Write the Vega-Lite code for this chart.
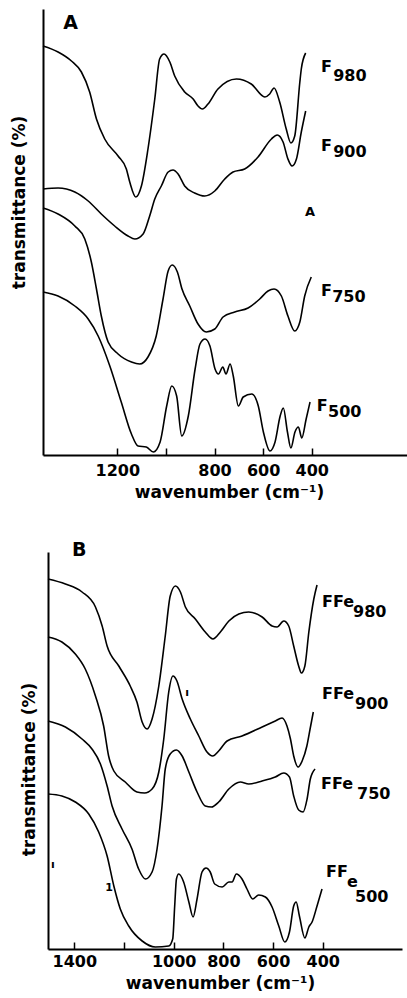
{
  "$schema": "https://vega.github.io/schema/vega-lite/v6.json",
  "background": "white",
  "autosize": {"type": "pad"},
  "padding": {"left": 10, "top": 9, "right": 0, "bottom": 0},
  "bounds": "flush",
  "center": true,
  "spacing": 97,
  "config": {
    "view": {"stroke": null},
    "font": "DejaVu Sans",
    "axis": {"grid": false, "domainColor": "black", "domainWidth": 2, "tickColor": "black", "tickWidth": 1.5, "labelColor": "black", "titleColor": "black", "labelFont": "DejaVu Sans", "titleFont": "DejaVu Sans", "labelFontWeight": "bold", "titleFontWeight": "bold", "labelFontSize": 16, "titleFontSize": 17},
    "text": {"color": "black", "font": "DejaVu Sans", "fontWeight": "bold"}
  },
  "datasets": {
    "specA": [
      {"series": "F980", "wn": 1506, "t": 409}, {"series": "F980", "wn": 1444, "t": 403}, {"series": "F980", "wn": 1389, "t": 394}, {"series": "F980", "wn": 1348, "t": 383}, {"series": "F980", "wn": 1314, "t": 363}, {"series": "F980", "wn": 1286, "t": 336}, {"series": "F980", "wn": 1252, "t": 316}, {"series": "F980", "wn": 1197, "t": 299}, {"series": "F980", "wn": 1163, "t": 286}, {"series": "F980", "wn": 1149, "t": 273}, {"series": "F980", "wn": 1124, "t": 258}, {"series": "F980", "wn": 1101, "t": 269}, {"series": "F980", "wn": 1074, "t": 306}, {"series": "F980", "wn": 1046, "t": 356}, {"series": "F980", "wn": 1026, "t": 396}, {"series": "F980", "wn": 1008, "t": 401}, {"series": "F980", "wn": 984, "t": 393}, {"series": "F980", "wn": 964, "t": 379}, {"series": "F980", "wn": 923, "t": 363}, {"series": "F980", "wn": 888, "t": 356}, {"series": "F980", "wn": 868, "t": 349}, {"series": "F980", "wn": 850, "t": 346}, {"series": "F980", "wn": 827, "t": 351}, {"series": "F980", "wn": 786, "t": 366}, {"series": "F980", "wn": 710, "t": 376}, {"series": "F980", "wn": 649, "t": 371}, {"series": "F980", "wn": 593, "t": 358}, {"series": "F980", "wn": 573, "t": 361}, {"series": "F980", "wn": 555, "t": 367}, {"series": "F980", "wn": 532, "t": 353}, {"series": "F980", "wn": 505, "t": 326}, {"series": "F980", "wn": 486, "t": 312}, {"series": "F980", "wn": 470, "t": 319}, {"series": "F980", "wn": 449, "t": 373}, {"series": "F980", "wn": 443, "t": 386}, {"series": "F980", "wn": 425, "t": 402},
      {"series": "F900", "wn": 1506, "t": 266}, {"series": "F900", "wn": 1444, "t": 267}, {"series": "F900", "wn": 1375, "t": 263}, {"series": "F900", "wn": 1320, "t": 254}, {"series": "F900", "wn": 1266, "t": 241}, {"series": "F900", "wn": 1211, "t": 229}, {"series": "F900", "wn": 1156, "t": 219}, {"series": "F900", "wn": 1128, "t": 216}, {"series": "F900", "wn": 1094, "t": 221}, {"series": "F900", "wn": 1067, "t": 239}, {"series": "F900", "wn": 1046, "t": 256}, {"series": "F900", "wn": 1019, "t": 269}, {"series": "F900", "wn": 991, "t": 283}, {"series": "F900", "wn": 971, "t": 285}, {"series": "F900", "wn": 950, "t": 281}, {"series": "F900", "wn": 923, "t": 269}, {"series": "F900", "wn": 882, "t": 262}, {"series": "F900", "wn": 840, "t": 259}, {"series": "F900", "wn": 799, "t": 264}, {"series": "F900", "wn": 758, "t": 276}, {"series": "F900", "wn": 724, "t": 283}, {"series": "F900", "wn": 676, "t": 286}, {"series": "F900", "wn": 621, "t": 298}, {"series": "F900", "wn": 566, "t": 316}, {"series": "F900", "wn": 542, "t": 320}, {"series": "F900", "wn": 518, "t": 313}, {"series": "F900", "wn": 498, "t": 296}, {"series": "F900", "wn": 481, "t": 289}, {"series": "F900", "wn": 463, "t": 296}, {"series": "F900", "wn": 443, "t": 323}, {"series": "F900", "wn": 425, "t": 344},
      {"series": "F750", "wn": 1506, "t": 247}, {"series": "F750", "wn": 1444, "t": 241}, {"series": "F750", "wn": 1375, "t": 229}, {"series": "F750", "wn": 1334, "t": 216}, {"series": "F750", "wn": 1307, "t": 193}, {"series": "F750", "wn": 1286, "t": 166}, {"series": "F750", "wn": 1266, "t": 139}, {"series": "F750", "wn": 1238, "t": 113}, {"series": "F750", "wn": 1197, "t": 101}, {"series": "F750", "wn": 1142, "t": 93}, {"series": "F750", "wn": 1108, "t": 91}, {"series": "F750", "wn": 1074, "t": 98}, {"series": "F750", "wn": 1040, "t": 119}, {"series": "F750", "wn": 1012, "t": 156}, {"series": "F750", "wn": 991, "t": 184}, {"series": "F750", "wn": 974, "t": 190}, {"series": "F750", "wn": 953, "t": 183}, {"series": "F750", "wn": 934, "t": 166}, {"series": "F750", "wn": 902, "t": 149}, {"series": "F750", "wn": 868, "t": 131}, {"series": "F750", "wn": 834, "t": 123}, {"series": "F750", "wn": 799, "t": 126}, {"series": "F750", "wn": 765, "t": 138}, {"series": "F750", "wn": 717, "t": 143}, {"series": "F750", "wn": 662, "t": 147}, {"series": "F750", "wn": 614, "t": 156}, {"series": "F750", "wn": 580, "t": 164}, {"series": "F750", "wn": 555, "t": 166}, {"series": "F750", "wn": 525, "t": 159}, {"series": "F750", "wn": 498, "t": 139}, {"series": "F750", "wn": 470, "t": 124}, {"series": "F750", "wn": 449, "t": 133}, {"series": "F750", "wn": 429, "t": 159}, {"series": "F750", "wn": 402, "t": 178},
      {"series": "F500", "wn": 1506, "t": 163}, {"series": "F500", "wn": 1444, "t": 159}, {"series": "F500", "wn": 1375, "t": 149}, {"series": "F500", "wn": 1320, "t": 136}, {"series": "F500", "wn": 1279, "t": 119}, {"series": "F500", "wn": 1231, "t": 89}, {"series": "F500", "wn": 1184, "t": 53}, {"series": "F500", "wn": 1142, "t": 21}, {"series": "F500", "wn": 1115, "t": 9}, {"series": "F500", "wn": 1081, "t": 8}, {"series": "F500", "wn": 1052, "t": 3}, {"series": "F500", "wn": 1024, "t": 13}, {"series": "F500", "wn": 997, "t": 49}, {"series": "F500", "wn": 976, "t": 69}, {"series": "F500", "wn": 956, "t": 59}, {"series": "F500", "wn": 935, "t": 19}, {"series": "F500", "wn": 908, "t": 39}, {"series": "F500", "wn": 880, "t": 86}, {"series": "F500", "wn": 860, "t": 111}, {"series": "F500", "wn": 839, "t": 116}, {"series": "F500", "wn": 819, "t": 109}, {"series": "F500", "wn": 798, "t": 86}, {"series": "F500", "wn": 784, "t": 81}, {"series": "F500", "wn": 766, "t": 88}, {"series": "F500", "wn": 753, "t": 81}, {"series": "F500", "wn": 736, "t": 91}, {"series": "F500", "wn": 723, "t": 79}, {"series": "F500", "wn": 702, "t": 49}, {"series": "F500", "wn": 682, "t": 58}, {"series": "F500", "wn": 647, "t": 61}, {"series": "F500", "wn": 620, "t": 49}, {"series": "F500", "wn": 599, "t": 23}, {"series": "F500", "wn": 572, "t": 4}, {"series": "F500", "wn": 551, "t": 13}, {"series": "F500", "wn": 530, "t": 39}, {"series": "F500", "wn": 517, "t": 47}, {"series": "F500", "wn": 500, "t": 23}, {"series": "F500", "wn": 486, "t": 7}, {"series": "F500", "wn": 469, "t": 23}, {"series": "F500", "wn": 455, "t": 28}, {"series": "F500", "wn": 441, "t": 17}, {"series": "F500", "wn": 423, "t": 36}, {"series": "F500", "wn": 407, "t": 53}
    ],
    "specB": [
      {"series": "FFe980", "wn": 1506, "t": 370}, {"series": "FFe980", "wn": 1436, "t": 365}, {"series": "FFe980", "wn": 1369, "t": 357}, {"series": "FFe980", "wn": 1315, "t": 342}, {"series": "FFe980", "wn": 1288, "t": 323}, {"series": "FFe980", "wn": 1268, "t": 303}, {"series": "FFe980", "wn": 1221, "t": 283}, {"series": "FFe980", "wn": 1175, "t": 263}, {"series": "FFe980", "wn": 1148, "t": 247}, {"series": "FFe980", "wn": 1127, "t": 227}, {"series": "FFe980", "wn": 1107, "t": 220}, {"series": "FFe980", "wn": 1087, "t": 230}, {"series": "FFe980", "wn": 1060, "t": 263}, {"series": "FFe980", "wn": 1034, "t": 313}, {"series": "FFe980", "wn": 1014, "t": 353}, {"series": "FFe980", "wn": 993, "t": 363}, {"series": "FFe980", "wn": 973, "t": 357}, {"series": "FFe980", "wn": 953, "t": 342}, {"series": "FFe980", "wn": 913, "t": 330}, {"series": "FFe980", "wn": 873, "t": 317}, {"series": "FFe980", "wn": 842, "t": 310}, {"series": "FFe980", "wn": 812, "t": 317}, {"series": "FFe980", "wn": 778, "t": 328}, {"series": "FFe980", "wn": 738, "t": 335}, {"series": "FFe980", "wn": 698, "t": 337}, {"series": "FFe980", "wn": 644, "t": 332}, {"series": "FFe980", "wn": 604, "t": 323}, {"series": "FFe980", "wn": 584, "t": 322}, {"series": "FFe980", "wn": 557, "t": 328}, {"series": "FFe980", "wn": 537, "t": 323}, {"series": "FFe980", "wn": 517, "t": 303}, {"series": "FFe980", "wn": 497, "t": 283}, {"series": "FFe980", "wn": 486, "t": 276}, {"series": "FFe980", "wn": 472, "t": 283}, {"series": "FFe980", "wn": 456, "t": 317}, {"series": "FFe980", "wn": 436, "t": 350}, {"series": "FFe980", "wn": 423, "t": 364},
      {"series": "FFe900", "wn": 1506, "t": 312}, {"series": "FFe900", "wn": 1450, "t": 307}, {"series": "FFe900", "wn": 1396, "t": 295}, {"series": "FFe900", "wn": 1356, "t": 280}, {"series": "FFe900", "wn": 1315, "t": 253}, {"series": "FFe900", "wn": 1282, "t": 223}, {"series": "FFe900", "wn": 1262, "t": 193}, {"series": "FFe900", "wn": 1241, "t": 178}, {"series": "FFe900", "wn": 1195, "t": 167}, {"series": "FFe900", "wn": 1148, "t": 157}, {"series": "FFe900", "wn": 1117, "t": 156}, {"series": "FFe900", "wn": 1087, "t": 160}, {"series": "FFe900", "wn": 1060, "t": 177}, {"series": "FFe900", "wn": 1040, "t": 210}, {"series": "FFe900", "wn": 1020, "t": 257}, {"series": "FFe900", "wn": 1003, "t": 273}, {"series": "FFe900", "wn": 987, "t": 268}, {"series": "FFe900", "wn": 966, "t": 250}, {"series": "FFe900", "wn": 933, "t": 230}, {"series": "FFe900", "wn": 899, "t": 213}, {"series": "FFe900", "wn": 866, "t": 197}, {"series": "FFe900", "wn": 843, "t": 193}, {"series": "FFe900", "wn": 819, "t": 198}, {"series": "FFe900", "wn": 785, "t": 208}, {"series": "FFe900", "wn": 725, "t": 213}, {"series": "FFe900", "wn": 644, "t": 222}, {"series": "FFe900", "wn": 591, "t": 228}, {"series": "FFe900", "wn": 564, "t": 231}, {"series": "FFe900", "wn": 544, "t": 223}, {"series": "FFe900", "wn": 530, "t": 210}, {"series": "FFe900", "wn": 517, "t": 193}, {"series": "FFe900", "wn": 499, "t": 182}, {"series": "FFe900", "wn": 483, "t": 188}, {"series": "FFe900", "wn": 464, "t": 203}, {"series": "FFe900", "wn": 451, "t": 220}, {"series": "FFe900", "wn": 438, "t": 237},
      {"series": "FFe750", "wn": 1506, "t": 228}, {"series": "FFe750", "wn": 1436, "t": 222}, {"series": "FFe750", "wn": 1369, "t": 210}, {"series": "FFe750", "wn": 1329, "t": 200}, {"series": "FFe750", "wn": 1295, "t": 185}, {"series": "FFe750", "wn": 1268, "t": 163}, {"series": "FFe750", "wn": 1248, "t": 143}, {"series": "FFe750", "wn": 1208, "t": 120}, {"series": "FFe750", "wn": 1168, "t": 100}, {"series": "FFe750", "wn": 1141, "t": 80}, {"series": "FFe750", "wn": 1114, "t": 70}, {"series": "FFe750", "wn": 1087, "t": 77}, {"series": "FFe750", "wn": 1067, "t": 100}, {"series": "FFe750", "wn": 1047, "t": 143}, {"series": "FFe750", "wn": 1034, "t": 180}, {"series": "FFe750", "wn": 1014, "t": 195}, {"series": "FFe750", "wn": 989, "t": 199}, {"series": "FFe750", "wn": 966, "t": 193}, {"series": "FFe750", "wn": 939, "t": 177}, {"series": "FFe750", "wn": 906, "t": 157}, {"series": "FFe750", "wn": 873, "t": 143}, {"series": "FFe750", "wn": 848, "t": 142}, {"series": "FFe750", "wn": 819, "t": 147}, {"series": "FFe750", "wn": 778, "t": 160}, {"series": "FFe750", "wn": 732, "t": 167}, {"series": "FFe750", "wn": 698, "t": 165}, {"series": "FFe750", "wn": 644, "t": 168}, {"series": "FFe750", "wn": 591, "t": 172}, {"series": "FFe750", "wn": 557, "t": 176}, {"series": "FFe750", "wn": 534, "t": 172}, {"series": "FFe750", "wn": 517, "t": 153}, {"series": "FFe750", "wn": 497, "t": 139}, {"series": "FFe750", "wn": 479, "t": 137}, {"series": "FFe750", "wn": 463, "t": 150}, {"series": "FFe750", "wn": 450, "t": 170}, {"series": "FFe750", "wn": 431, "t": 180},
      {"series": "FFe500", "wn": 1506, "t": 155}, {"series": "FFe500", "wn": 1450, "t": 153}, {"series": "FFe500", "wn": 1396, "t": 147}, {"series": "FFe500", "wn": 1342, "t": 135}, {"series": "FFe500", "wn": 1302, "t": 117}, {"series": "FFe500", "wn": 1268, "t": 93}, {"series": "FFe500", "wn": 1241, "t": 63}, {"series": "FFe500", "wn": 1215, "t": 40}, {"series": "FFe500", "wn": 1181, "t": 23}, {"series": "FFe500", "wn": 1127, "t": 8}, {"series": "FFe500", "wn": 1074, "t": 2}, {"series": "FFe500", "wn": 1020, "t": 3}, {"series": "FFe500", "wn": 1004, "t": 10}, {"series": "FFe500", "wn": 996, "t": 43}, {"series": "FFe500", "wn": 989, "t": 70}, {"series": "FFe500", "wn": 980, "t": 75}, {"series": "FFe500", "wn": 960, "t": 67}, {"series": "FFe500", "wn": 939, "t": 47}, {"series": "FFe500", "wn": 922, "t": 32}, {"series": "FFe500", "wn": 906, "t": 50}, {"series": "FFe500", "wn": 886, "t": 77}, {"series": "FFe500", "wn": 870, "t": 81}, {"series": "FFe500", "wn": 853, "t": 77}, {"series": "FFe500", "wn": 835, "t": 65}, {"series": "FFe500", "wn": 805, "t": 62}, {"series": "FFe500", "wn": 778, "t": 67}, {"series": "FFe500", "wn": 765, "t": 67}, {"series": "FFe500", "wn": 748, "t": 75}, {"series": "FFe500", "wn": 725, "t": 70}, {"series": "FFe500", "wn": 705, "t": 60}, {"series": "FFe500", "wn": 682, "t": 50}, {"series": "FFe500", "wn": 658, "t": 54}, {"series": "FFe500", "wn": 631, "t": 52}, {"series": "FFe500", "wn": 604, "t": 42}, {"series": "FFe500", "wn": 577, "t": 23}, {"series": "FFe500", "wn": 553, "t": 7}, {"series": "FFe500", "wn": 534, "t": 17}, {"series": "FFe500", "wn": 517, "t": 43}, {"series": "FFe500", "wn": 507, "t": 47}, {"series": "FFe500", "wn": 494, "t": 33}, {"series": "FFe500", "wn": 472, "t": 11}, {"series": "FFe500", "wn": 456, "t": 22}, {"series": "FFe500", "wn": 443, "t": 27}, {"series": "FFe500", "wn": 423, "t": 43}, {"series": "FFe500", "wn": 403, "t": 60}
    ],
    "labA": [
      {"text": "A", "wn": 1423, "t": 426, "role": "panel"},
      {"text": "F", "wn": 362, "t": 383, "role": "main"},
      {"text": "980", "wn": 312, "t": 374, "role": "sub"},
      {"text": "F", "wn": 362, "t": 304, "role": "main"},
      {"text": "900", "wn": 312, "t": 298, "role": "sub"},
      {"text": "F", "wn": 362, "t": 159, "role": "main"},
      {"text": "750", "wn": 316, "t": 153, "role": "sub"},
      {"text": "F", "wn": 379, "t": 44, "role": "main"},
      {"text": "500", "wn": 333, "t": 38, "role": "sub"},
      {"text": "A", "wn": 428, "t": 239, "role": "mark"}
    ],
    "labB": [
      {"text": "B", "wn": 1409, "t": 393, "role": "panel"},
      {"text": "FFe", "wn": 403, "t": 342, "role": "main"},
      {"text": "980", "wn": 278, "t": 332, "role": "sub"},
      {"text": "FFe", "wn": 403, "t": 250, "role": "main"},
      {"text": "900", "wn": 270, "t": 240, "role": "sub"},
      {"text": "FFe", "wn": 407, "t": 160, "role": "main"},
      {"text": "750", "wn": 262, "t": 150, "role": "sub"},
      {"text": "FF", "wn": 387, "t": 72, "role": "main"},
      {"text": "e", "wn": 302, "t": 62, "role": "main"},
      {"text": "500", "wn": 270, "t": 47, "role": "sub"},
      {"text": "ı", "wn": 954, "t": 253, "role": "mark"},
      {"text": "ı", "wn": 1494, "t": 81, "role": "mark"},
      {"text": "1", "wn": 1276, "t": 58, "role": "mark"}
    ]
  },
  "vconcat": [
    {
      "width": 364,
      "height": 446,
      "encoding": {
        "x": {"field": "wn", "type": "quantitative", "scale": {"domain": [8, 1506], "reverse": true, "nice": false, "zero": false},
          "axis": {"title": "wavenumber (cm⁻¹)", "values": [1200, 1000, 800, 600, 400], "labelExpr": "datum.value == 1000 ? '' : '' + datum.value", "tickSize": -7, "labelPadding": 14, "titlePadding": 6, "titleX": 186, "labelFlush": false, "labelOverlap": false}},
        "y": {"field": "t", "type": "quantitative", "scale": {"domain": [0, 446], "nice": false, "zero": false},
          "axis": {"title": "transmittance (%)", "ticks": false, "labels": false, "titleX": -24, "titleY": 193, "titleBaseline": "middle", "titleAngle": 270, "titleAlign": "center"}}
      },
      "layer": [
        {"data": {"name": "specA"}, "mark": {"type": "line", "interpolate": "monotone", "color": "black", "strokeWidth": 1.6},
          "encoding": {"detail": {"field": "series"}, "order": {"field": "wn", "sort": "descending"}}},
        {"data": {"name": "labA"}, "transform": [{"filter": "datum.role == 'main'"}], "mark": {"type": "text", "align": "left", "baseline": "alphabetic", "fontSize": 16, "color": "black"}, "encoding": {"text": {"field": "text"}}},
        {"data": {"name": "labA"}, "transform": [{"filter": "datum.role == 'sub'"}], "mark": {"type": "text", "align": "left", "baseline": "alphabetic", "fontSize": 16, "color": "black"}, "encoding": {"text": {"field": "text"}}},
        {"data": {"name": "labA"}, "transform": [{"filter": "datum.role == 'panel'"}], "mark": {"type": "text", "align": "left", "baseline": "alphabetic", "fontSize": 19, "color": "black"}, "encoding": {"text": {"field": "text"}}},
        {"data": {"name": "labA"}, "transform": [{"filter": "datum.role == 'mark'"}], "mark": {"type": "text", "align": "left", "baseline": "alphabetic", "fontSize": 13, "color": "black"}, "encoding": {"text": {"field": "text"}}}
      ]
    },
    {
      "width": 354,
      "height": 397,
      "encoding": {
        "x": {"field": "wn", "type": "quantitative", "scale": {"domain": [81, 1506], "reverse": true, "nice": false, "zero": false},
          "axis": {"title": "wavenumber (cm⁻¹)", "values": [1400, 1200, 1000, 800, 600, 400], "labelExpr": "datum.value == 1200 ? '' : '' + datum.value", "tickSize": -7, "labelPadding": 11, "titlePadding": 6, "titleX": 172, "labelFlush": false, "labelOverlap": false}},
        "y": {"field": "t", "type": "quantitative", "scale": {"domain": [0, 397], "nice": false, "zero": false},
          "axis": {"title": "transmittance (%)", "ticks": false, "labels": false, "titleX": -19, "titleY": 217, "titleBaseline": "middle", "titleAngle": 270, "titleAlign": "center"}}
      },
      "layer": [
        {"data": {"name": "specB"}, "mark": {"type": "line", "interpolate": "monotone", "color": "black", "strokeWidth": 1.6},
          "encoding": {"detail": {"field": "series"}, "order": {"field": "wn", "sort": "descending"}}},
        {"data": {"name": "labB"}, "transform": [{"filter": "datum.role == 'main'"}], "mark": {"type": "text", "align": "left", "baseline": "alphabetic", "fontSize": 16, "color": "black"}, "encoding": {"text": {"field": "text"}}},
        {"data": {"name": "labB"}, "transform": [{"filter": "datum.role == 'sub'"}], "mark": {"type": "text", "align": "left", "baseline": "alphabetic", "fontSize": 16, "color": "black"}, "encoding": {"text": {"field": "text"}}},
        {"data": {"name": "labB"}, "transform": [{"filter": "datum.role == 'panel'"}], "mark": {"type": "text", "align": "left", "baseline": "alphabetic", "fontSize": 19, "color": "black"}, "encoding": {"text": {"field": "text"}}},
        {"data": {"name": "labB"}, "transform": [{"filter": "datum.role == 'mark'"}], "mark": {"type": "text", "align": "left", "baseline": "alphabetic", "fontSize": 11, "fontWeight": "bold", "color": "black"}, "encoding": {"text": {"field": "text"}}}
      ]
    }
  ]
}
